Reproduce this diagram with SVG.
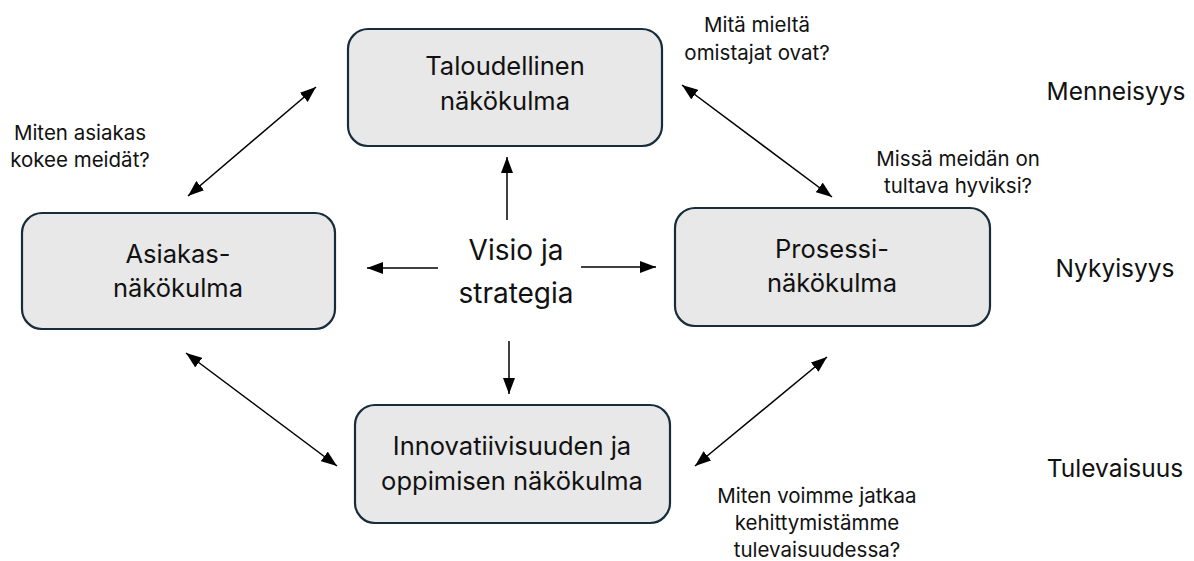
<svg xmlns="http://www.w3.org/2000/svg" width="1194" height="561" viewBox="0 0 1194 561">
<style>
.box{fill:#e8e8e8;stroke:#172d3c;stroke-width:2.2}
.bt{font-family:Inter,"Liberation Sans",sans-serif;font-size:25.5px;fill:#111;text-anchor:middle}
.ct{font-family:Inter,"Liberation Sans",sans-serif;font-size:28px;fill:#111;text-anchor:middle}
.q{font-family:Inter,"Liberation Sans",sans-serif;font-size:20.5px;fill:#111;text-anchor:middle}
.t{font-family:Inter,"Liberation Sans",sans-serif;font-size:24.5px;fill:#111;text-anchor:middle}
.c{stroke:#000;stroke-width:1.5;fill:none}
</style>
<defs>
<marker id="ah" viewBox="0 0 16 12" refX="16" refY="6" markerWidth="16" markerHeight="12" markerUnits="userSpaceOnUse" orient="auto-start-reverse">
<path d="M0,0 L16,6 L0,12 Z" fill="#000"/>
</marker>
</defs>
<rect width="1194" height="561" fill="#fff"/>
<g id="connectors">
<line class="c" x1="507" y1="220" x2="507" y2="157" marker-end="url(#ah)"/>
<line class="c" x1="438" y1="268" x2="367" y2="268" marker-end="url(#ah)"/>
<line class="c" x1="581" y1="267" x2="656" y2="267" marker-end="url(#ah)"/>
<line class="c" x1="509" y1="341" x2="509" y2="394" marker-end="url(#ah)"/>
<line class="c" x1="188" y1="196" x2="316" y2="87" marker-start="url(#ah)" marker-end="url(#ah)"/>
<line class="c" x1="682" y1="85" x2="832" y2="197" marker-start="url(#ah)" marker-end="url(#ah)"/>
<line class="c" x1="186" y1="353" x2="337" y2="466" marker-start="url(#ah)" marker-end="url(#ah)"/>
<line class="c" x1="695" y1="466" x2="827" y2="357" marker-start="url(#ah)" marker-end="url(#ah)"/>
</g>
<g id="talous">
<rect class="box" x="348" y="29" width="314" height="117" rx="20"/>
<text class="bt" x="505" y="75">Taloudellinen</text>
<text class="bt" x="505" y="110">näkökulma</text>
</g>
<g id="asiakas">
<rect class="box" x="22" y="213" width="313" height="116" rx="20"/>
<text class="bt" x="178" y="263">Asiakas-</text>
<text class="bt" x="178" y="297">näkökulma</text>
</g>
<g id="prosessi">
<rect class="box" x="675" y="208" width="315" height="118" rx="20"/>
<text class="bt" x="832" y="258">Prosessi-</text>
<text class="bt" x="832" y="292">näkökulma</text>
</g>
<g id="innovaatio">
<rect class="box" x="355" y="405" width="315" height="118" rx="20"/>
<text class="bt" x="512" y="455">Innovatiivisuuden ja</text>
<text class="bt" x="512" y="490">oppimisen näkökulma</text>
</g>
<g id="visio">
<text class="ct" x="516" y="260">Visio ja</text>
<text class="ct" x="516" y="303">strategia</text>
</g>
<g id="labels">
<text class="q" x="757" y="32">Mitä mieltä</text>
<text class="q" x="757" y="60">omistajat ovat?</text>
<text class="q" x="80" y="140">Miten asiakas</text>
<text class="q" x="80" y="167">kokee meidät?</text>
<text class="q" x="958" y="166">Missä meidän on</text>
<text class="q" x="958" y="193">tultava hyviksi?</text>
<text class="q" x="817" y="503">Miten voimme jatkaa</text>
<text class="q" x="817" y="530">kehittymistämme</text>
<text class="q" x="817" y="557">tulevaisuudessa?</text>
<text class="t" x="1116" y="100">Menneisyys</text>
<text class="t" x="1115" y="277">Nykyisyys</text>
<text class="t" x="1115" y="477">Tulevaisuus</text>
</g>
</svg>
